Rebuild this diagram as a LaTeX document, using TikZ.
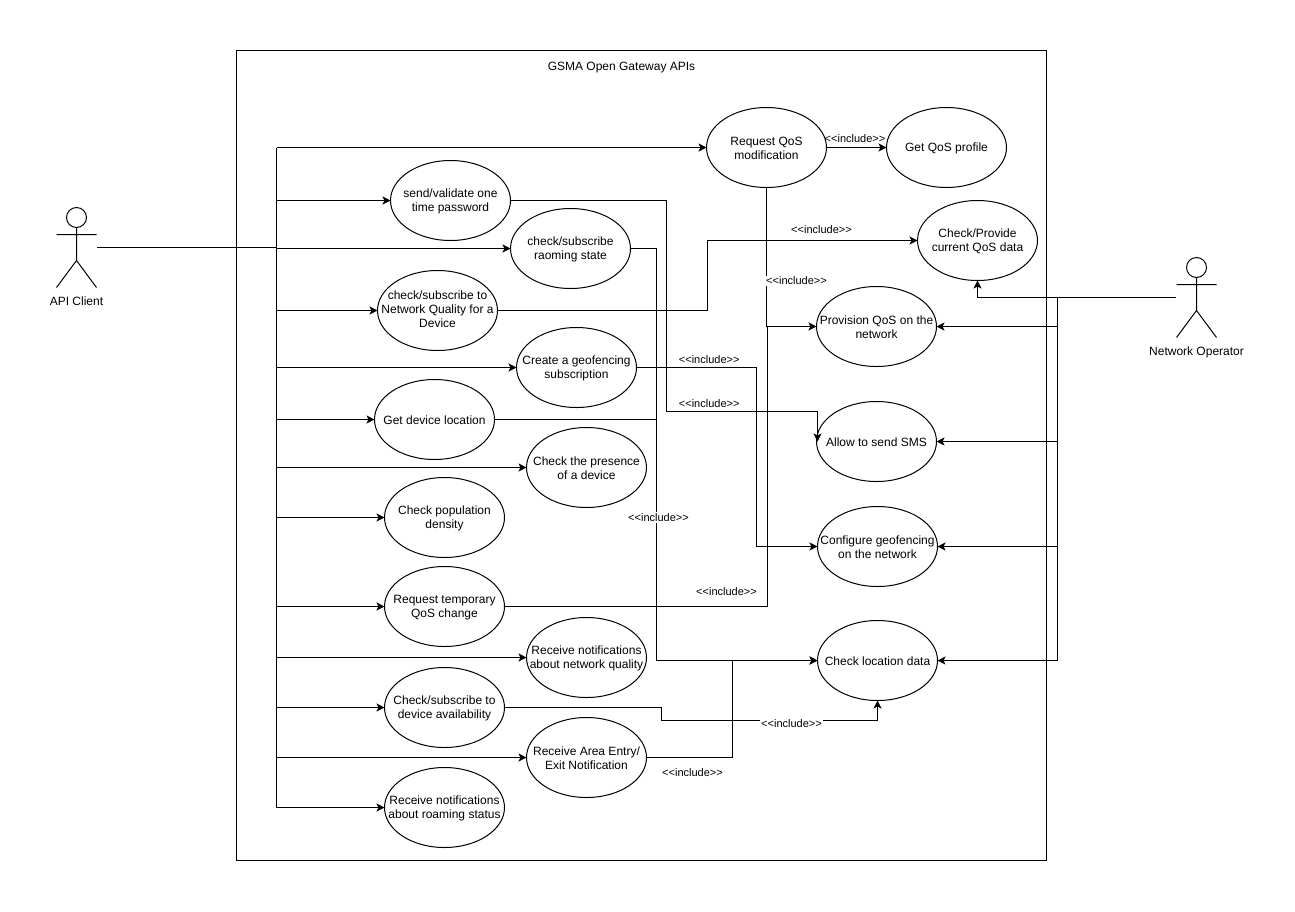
\documentclass[tikz,border=0pt]{standalone}
\usepackage{fontspec}
\setmainfont{Liberation Sans}
\usetikzlibrary{arrows.meta,shapes.geometric}
\tikzset{
  uc/.style={draw=black,fill=white,ellipse,minimum width=120pt,minimum height=80pt,inner sep=0pt,outer sep=0pt,
    label={[align=center,inner sep=0pt,yshift=-1pt,font=\fontsize{12}{14}\selectfont]center:#1}},
  ucthree/.style={draw=black,fill=white,ellipse,minimum width=120pt,minimum height=80pt,inner sep=0pt,outer sep=0pt,
    label={[align=center,inner sep=0pt,yshift=1pt,font=\fontsize{12}{14}\selectfont]center:#1}},
  actorbox/.style={minimum width=40pt,minimum height=80pt,inner sep=0pt},
  lbl/.style={font=\fontsize{12}{14}\selectfont,inner sep=0pt},
  inc/.style={font=\fontsize{11}{13}\selectfont,inner sep=1pt},
  incw/.style={inc,fill=white},
  arr/.style={-{Stealth[length=8pt,width=8pt,inset=2pt]}},
}
\begin{document}
\begin{tikzpicture}[x=1pt,y=-1pt,line width=1pt]
\useasboundingbox (-0.5,-0.5) rectangle (1294.5,910.5);
\node[draw=black,minimum width=810pt,minimum height=810pt,inner sep=0pt] (sys) at (641,455) {};
\node[lbl] (title) at (621,67.5) {GSMA Open Gateway APIs};

% actors
\node[actorbox] (api) at (76,247) {};
\draw (76,217) circle (10pt);
\draw (76,227) -- (76,260) (56,234) -- (96,234) (56,287) -- (76,260) -- (96,287);
\node[lbl] (apil) at (76,300.5) {API Client};
\node[actorbox] (op) at (1196,297) {};
\draw (1196,267) circle (10pt);
\draw (1196,277) -- (1196,310) (1176,284) -- (1216,284) (1176,337) -- (1196,310) -- (1216,337);
\node[lbl] (opl) at (1196,351.5) {Network Operator};

% use cases
\node[uc={Request QoS\\modification}] (qosmod) at (766,147) {};
\node[uc={Get QoS profile}] (getqos) at (946,147) {};
\node[uc={Check/Provide\\current QoS data}] (chkqos) at (977,240) {};
\node[uc={Provision QoS on the\\network}] (prov) at (876,326) {};
\node[uc={Allow to send SMS}] (allow) at (876,441) {};
\node[uc={Configure geofencing\\on the network}] (conf) at (877,546) {};
\node[uc={Check location data}] (chkloc) at (877,660) {};
\node[uc={send/validate one\\time password}] (otp) at (450,200) {};
\node[uc={check/subscribe\\raoming state}] (roam) at (570,248) {};
\node[ucthree={check/subscribe to\\Network Quality for a\\Device}] (netq) at (437,310) {};
\node[uc={Create a geofencing\\subscription}] (geof) at (576,367) {};
\node[uc={Get device location}] (getloc) at (434,419) {};
\node[uc={Check the presence\\of a device}] (pres) at (586,467) {};
\node[uc={Check population\\density}] (pop) at (444,517) {};
\node[uc={Request temporary\\QoS change}] (temp) at (444,606) {};
\node[uc={Receive notifications\\about network quality}] (recv) at (586,657) {};
\node[uc={Check/subscribe to\\device availability}] (avail) at (444,707) {};
\node[uc={Receive Area Entry/\\Exit Notification}] (area) at (586,757) {};
\node[uc={Receive notifications\\about roaming status}] (rstat) at (444,807) {};

% client bus
\coordinate (bus) at (276,247);
\draw (api.east) -- (bus);
\draw (bus |- qosmod.west) -- (bus |- rstat.west);
\foreach \n in {qosmod,otp,roam,netq,geof,getloc,pres,pop,temp,recv,avail,area,rstat}
  \draw[arr] (bus |- \n.west) -- (\n.west);

% operator bus
\coordinate (obus) at (1057,297);
\draw (op.west) -- (obus);
\draw (obus) -- (obus |- chkloc.east);
\draw[arr] (op.west) -- (chkqos.south |- op.west) -- (chkqos.south);
\foreach \n in {prov,allow,conf,chkloc}
  \draw[arr] (obus |- \n.east) -- (\n.east);

% includes
\draw[arr] (qosmod.east) -- (getqos.west);
\draw[arr] (netq.east) -- (707,310) -- (707,240) -- (chkqos.west);
\draw[arr] (qosmod.south) -- (766,326) -- (prov.west);
\draw (temp.east) -- (767,606) -- (767,326);
\draw[arr] (geof.east) -- (756,367) -- (756,546) -- (conf.west);
\draw[arr] (otp.east) -- (666,200) -- (666,411) -- (817,411) -- (817,441);
\draw[arr] (roam.east) -- (656,248) -- (656,660) -- (chkloc.west);
\draw (getloc.east) -- (656,419);
\draw[arr] (area.east) -- (732,757) -- (732,660) -- (chkloc.west);
\draw[arr] (avail.east) -- (661,707) -- (661,720) -- (877,720) -- (chkloc.south);

\node[inc] (i1) at (854.5,137.8) {<{}<include>{}>};
\node[inc] (i2) at (821,228.8) {<{}<include>{}>};
\node[incw] (i3) at (796,280.2) {<{}<include>{}>};
\node[inc] (i4) at (708.7,359) {<{}<include>{}>};
\node[inc] (i5) at (708.7,403.5) {<{}<include>{}>};
\node[incw] (i6) at (658,517) {<{}<include>{}>};
\node[inc] (i7) at (726,591.2) {<{}<include>{}>};
\node[incw] (i8) at (791,722.8) {<{}<include>{}>};
\node[inc] (i9) at (692,772.2) {<{}<include>{}>};
\end{tikzpicture}
\end{document}
